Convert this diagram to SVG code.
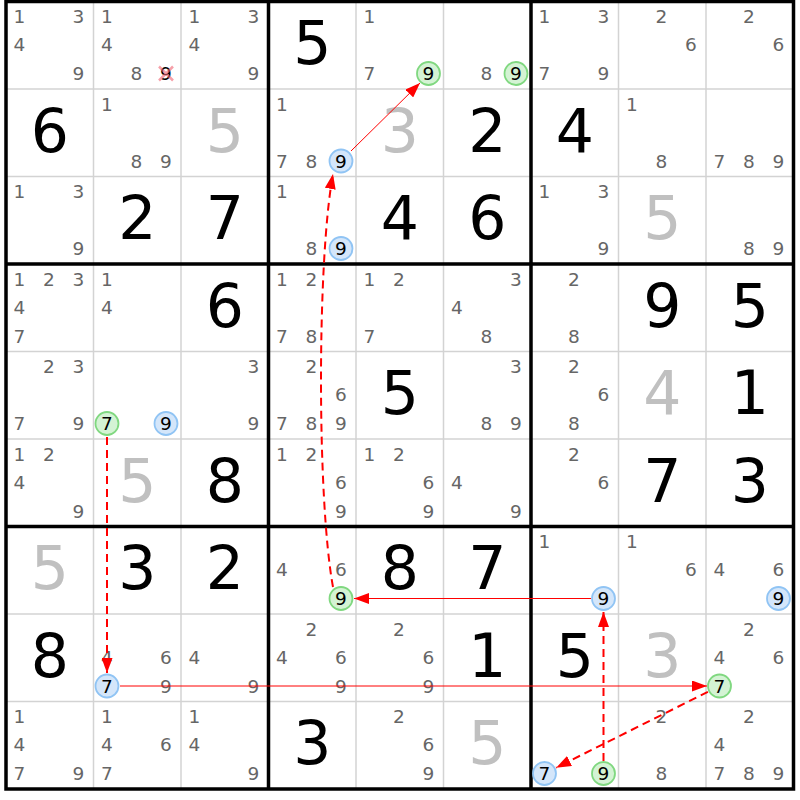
<svg xmlns="http://www.w3.org/2000/svg" width="800" height="800" viewBox="0 0 800 800">
<style>
text{font-family:"DejaVu Sans","Liberation Sans",sans-serif;text-anchor:middle}
.c{font-size:18.5px;fill:#666}
.h{font-size:18.5px;fill:#000}
.b{font-size:60px;fill:#000}
.g{font-size:60px;fill:#c0c0c0}
.thin{stroke:#d3d3d3;stroke-width:1.5}
.thick{stroke:#000;stroke-width:3.5}
.cg{fill:#d4f3d4;stroke:#80d880;stroke-width:1.8}
.cb{fill:#d4e6fa;stroke:#90c4f4;stroke-width:1.8}
.s{stroke:#ff0000;stroke-width:1;fill:none;marker-end:url(#ah)}
.d{stroke:#ff0000;stroke-width:2;stroke-dasharray:8,5;fill:none;marker-end:url(#ah)}
</style>
<defs>
<marker id="ah" markerUnits="userSpaceOnUse" markerWidth="15" markerHeight="11" refX="15" refY="5.5" orient="auto">
<path d="M0,0 L15,5.5 L0,11 z" fill="#ff0000"/>
</marker>
</defs>
<rect width="800" height="800" fill="#fff"/>
<g id="grid">
<path class="thin" d="M93.5,1.5V789M181,1.5V789M356,1.5V789M443.5,1.5V789M618.5,1.5V789M706,1.5V789M6,89H793.5M6,176.5H793.5M6,351.5H793.5M6,439H793.5M6,614H793.5M6,701.5H793.5"/>
<path class="thick" d="M268.5,1.5V789M531,1.5V789M6,264H793.5M6,526.5H793.5"/>
<rect class="thick" x="6" y="1.5" width="787.5" height="787.5" fill="none"/>
</g>
<g id="r0c0"><text class="c" x="19.5" y="23.3">1</text><text class="c" x="78.5" y="23.3">3</text><text class="c" x="19.5" y="51.3">4</text><text class="c" x="78.5" y="80.3">9</text></g>
<g id="r0c1"><text class="c" x="107" y="23.3">1</text><text class="c" x="107" y="51.3">4</text><text class="c" x="136.5" y="80.3">8</text><text class="h" x="166" y="80.3">9</text><path d="M159,66.5L173,80.5M173,66.5L159,80.5" stroke="#f06070" stroke-width="2.5" stroke-opacity="0.6"/></g>
<g id="r0c2"><text class="c" x="194.5" y="23.3">1</text><text class="c" x="253.5" y="23.3">3</text><text class="c" x="194.5" y="51.3">4</text><text class="c" x="253.5" y="80.3">9</text></g>
<g id="r0c3"><text class="b" x="312.25" y="64.25">5</text></g>
<g id="r0c4"><text class="c" x="369.5" y="23.3">1</text><text class="c" x="369.5" y="80.3">7</text><circle class="cg" cx="428.5" cy="73.5" r="11.5"/><text class="h" x="428.5" y="80.3">9</text></g>
<g id="r0c5"><text class="c" x="486.5" y="80.3">8</text><circle class="cg" cx="516" cy="73.5" r="11.5"/><text class="h" x="516" y="80.3">9</text></g>
<g id="r0c6"><text class="c" x="544.5" y="23.3">1</text><text class="c" x="603.5" y="23.3">3</text><text class="c" x="544.5" y="80.3">7</text><text class="c" x="603.5" y="80.3">9</text></g>
<g id="r0c7"><text class="c" x="661.5" y="23.3">2</text><text class="c" x="691" y="51.3">6</text></g>
<g id="r0c8"><text class="c" x="749" y="23.3">2</text><text class="c" x="778.5" y="51.3">6</text></g>
<g id="r1c0"><text class="b" x="49.75" y="151.75">6</text></g>
<g id="r1c1"><text class="c" x="107" y="110.8">1</text><text class="c" x="136.5" y="167.8">8</text><text class="c" x="166" y="167.8">9</text></g>
<g id="r1c2"><text class="g" x="224.75" y="151.75">5</text></g>
<g id="r1c3"><text class="c" x="282" y="110.8">1</text><text class="c" x="282" y="167.8">7</text><text class="c" x="311.5" y="167.8">8</text><circle class="cb" cx="341" cy="161" r="11.5"/><text class="h" x="341" y="167.8">9</text></g>
<g id="r1c4"><text class="g" x="399.75" y="151.75">3</text></g>
<g id="r1c5"><text class="b" x="487.25" y="151.75">2</text></g>
<g id="r1c6"><text class="b" x="574.75" y="151.75">4</text></g>
<g id="r1c7"><text class="c" x="632" y="110.8">1</text><text class="c" x="661.5" y="167.8">8</text></g>
<g id="r1c8"><text class="c" x="719.5" y="167.8">7</text><text class="c" x="749" y="167.8">8</text><text class="c" x="778.5" y="167.8">9</text></g>
<g id="r2c0"><text class="c" x="19.5" y="198.3">1</text><text class="c" x="78.5" y="198.3">3</text><text class="c" x="78.5" y="255.3">9</text></g>
<g id="r2c1"><text class="b" x="137.25" y="239.25">2</text></g>
<g id="r2c2"><text class="b" x="224.75" y="239.25">7</text></g>
<g id="r2c3"><text class="c" x="282" y="198.3">1</text><text class="c" x="311.5" y="255.3">8</text><circle class="cb" cx="341" cy="248.5" r="11.5"/><text class="h" x="341" y="255.3">9</text></g>
<g id="r2c4"><text class="b" x="399.75" y="239.25">4</text></g>
<g id="r2c5"><text class="b" x="487.25" y="239.25">6</text></g>
<g id="r2c6"><text class="c" x="544.5" y="198.3">1</text><text class="c" x="603.5" y="198.3">3</text><text class="c" x="603.5" y="255.3">9</text></g>
<g id="r2c7"><text class="g" x="662.25" y="239.25">5</text></g>
<g id="r2c8"><text class="c" x="749" y="255.3">8</text><text class="c" x="778.5" y="255.3">9</text></g>
<g id="r3c0"><text class="c" x="19.5" y="285.8">1</text><text class="c" x="49" y="285.8">2</text><text class="c" x="78.5" y="285.8">3</text><text class="c" x="19.5" y="313.8">4</text><text class="c" x="19.5" y="342.8">7</text></g>
<g id="r3c1"><text class="c" x="107" y="285.8">1</text><text class="c" x="107" y="313.8">4</text></g>
<g id="r3c2"><text class="b" x="224.75" y="326.75">6</text></g>
<g id="r3c3"><text class="c" x="282" y="285.8">1</text><text class="c" x="311.5" y="285.8">2</text><text class="c" x="282" y="342.8">7</text><text class="c" x="311.5" y="342.8">8</text></g>
<g id="r3c4"><text class="c" x="369.5" y="285.8">1</text><text class="c" x="399" y="285.8">2</text><text class="c" x="369.5" y="342.8">7</text></g>
<g id="r3c5"><text class="c" x="516" y="285.8">3</text><text class="c" x="457" y="313.8">4</text><text class="c" x="486.5" y="342.8">8</text></g>
<g id="r3c6"><text class="c" x="574" y="285.8">2</text><text class="c" x="574" y="342.8">8</text></g>
<g id="r3c7"><text class="b" x="662.25" y="326.75">9</text></g>
<g id="r3c8"><text class="b" x="749.75" y="326.75">5</text></g>
<g id="r4c0"><text class="c" x="49" y="373.3">2</text><text class="c" x="78.5" y="373.3">3</text><text class="c" x="19.5" y="430.3">7</text><text class="c" x="78.5" y="430.3">9</text></g>
<g id="r4c1"><circle class="cg" cx="107" cy="423.5" r="11.5"/><text class="h" x="107" y="430.3">7</text><circle class="cb" cx="166" cy="423.5" r="11.5"/><text class="h" x="166" y="430.3">9</text></g>
<g id="r4c2"><text class="c" x="253.5" y="373.3">3</text><text class="c" x="253.5" y="430.3">9</text></g>
<g id="r4c3"><text class="c" x="311.5" y="373.3">2</text><text class="c" x="341" y="401.3">6</text><text class="c" x="282" y="430.3">7</text><text class="c" x="311.5" y="430.3">8</text><text class="c" x="341" y="430.3">9</text></g>
<g id="r4c4"><text class="b" x="399.75" y="414.25">5</text></g>
<g id="r4c5"><text class="c" x="516" y="373.3">3</text><text class="c" x="486.5" y="430.3">8</text><text class="c" x="516" y="430.3">9</text></g>
<g id="r4c6"><text class="c" x="574" y="373.3">2</text><text class="c" x="603.5" y="401.3">6</text><text class="c" x="574" y="430.3">8</text></g>
<g id="r4c7"><text class="g" x="662.25" y="414.25">4</text></g>
<g id="r4c8"><text class="b" x="749.75" y="414.25">1</text></g>
<g id="r5c0"><text class="c" x="19.5" y="460.8">1</text><text class="c" x="49" y="460.8">2</text><text class="c" x="19.5" y="488.8">4</text><text class="c" x="78.5" y="517.8">9</text></g>
<g id="r5c1"><text class="g" x="137.25" y="501.75">5</text></g>
<g id="r5c2"><text class="b" x="224.75" y="501.75">8</text></g>
<g id="r5c3"><text class="c" x="282" y="460.8">1</text><text class="c" x="311.5" y="460.8">2</text><text class="c" x="341" y="488.8">6</text><text class="c" x="341" y="517.8">9</text></g>
<g id="r5c4"><text class="c" x="369.5" y="460.8">1</text><text class="c" x="399" y="460.8">2</text><text class="c" x="428.5" y="488.8">6</text><text class="c" x="428.5" y="517.8">9</text></g>
<g id="r5c5"><text class="c" x="457" y="488.8">4</text><text class="c" x="516" y="517.8">9</text></g>
<g id="r5c6"><text class="c" x="574" y="460.8">2</text><text class="c" x="603.5" y="488.8">6</text></g>
<g id="r5c7"><text class="b" x="662.25" y="501.75">7</text></g>
<g id="r5c8"><text class="b" x="749.75" y="501.75">3</text></g>
<g id="r6c0"><text class="g" x="49.75" y="589.25">5</text></g>
<g id="r6c1"><text class="b" x="137.25" y="589.25">3</text></g>
<g id="r6c2"><text class="b" x="224.75" y="589.25">2</text></g>
<g id="r6c3"><text class="c" x="282" y="576.3">4</text><text class="c" x="341" y="576.3">6</text><circle class="cg" cx="341" cy="598.5" r="11.5"/><text class="h" x="341" y="605.3">9</text></g>
<g id="r6c4"><text class="b" x="399.75" y="589.25">8</text></g>
<g id="r6c5"><text class="b" x="487.25" y="589.25">7</text></g>
<g id="r6c6"><text class="c" x="544.5" y="548.3">1</text><circle class="cb" cx="603.5" cy="598.5" r="11.5"/><text class="h" x="603.5" y="605.3">9</text></g>
<g id="r6c7"><text class="c" x="632" y="548.3">1</text><text class="c" x="691" y="576.3">6</text></g>
<g id="r6c8"><text class="c" x="719.5" y="576.3">4</text><text class="c" x="778.5" y="576.3">6</text><circle class="cb" cx="778.5" cy="598.5" r="11.5"/><text class="h" x="778.5" y="605.3">9</text></g>
<g id="r7c0"><text class="b" x="49.75" y="676.75">8</text></g>
<g id="r7c1"><text class="c" x="107" y="663.8">4</text><text class="c" x="166" y="663.8">6</text><circle class="cb" cx="107" cy="686" r="11.5"/><text class="h" x="107" y="692.8">7</text><text class="c" x="166" y="692.8">9</text></g>
<g id="r7c2"><text class="c" x="194.5" y="663.8">4</text><text class="c" x="253.5" y="692.8">9</text></g>
<g id="r7c3"><text class="c" x="311.5" y="635.8">2</text><text class="c" x="282" y="663.8">4</text><text class="c" x="341" y="663.8">6</text><text class="c" x="341" y="692.8">9</text></g>
<g id="r7c4"><text class="c" x="399" y="635.8">2</text><text class="c" x="428.5" y="663.8">6</text><text class="c" x="428.5" y="692.8">9</text></g>
<g id="r7c5"><text class="b" x="487.25" y="676.75">1</text></g>
<g id="r7c6"><text class="b" x="574.75" y="676.75">5</text></g>
<g id="r7c7"><text class="g" x="662.25" y="676.75">3</text></g>
<g id="r7c8"><text class="c" x="749" y="635.8">2</text><text class="c" x="719.5" y="663.8">4</text><text class="c" x="778.5" y="663.8">6</text><circle class="cg" cx="719.5" cy="686" r="11.5"/><text class="h" x="719.5" y="692.8">7</text></g>
<g id="r8c0"><text class="c" x="19.5" y="723.3">1</text><text class="c" x="19.5" y="751.3">4</text><text class="c" x="19.5" y="780.3">7</text><text class="c" x="78.5" y="780.3">9</text></g>
<g id="r8c1"><text class="c" x="107" y="723.3">1</text><text class="c" x="107" y="751.3">4</text><text class="c" x="166" y="751.3">6</text><text class="c" x="107" y="780.3">7</text></g>
<g id="r8c2"><text class="c" x="194.5" y="723.3">1</text><text class="c" x="194.5" y="751.3">4</text><text class="c" x="253.5" y="780.3">9</text></g>
<g id="r8c3"><text class="b" x="312.25" y="764.25">3</text></g>
<g id="r8c4"><text class="c" x="399" y="723.3">2</text><text class="c" x="428.5" y="751.3">6</text><text class="c" x="428.5" y="780.3">9</text></g>
<g id="r8c5"><text class="g" x="487.25" y="764.25">5</text></g>
<g id="r8c6"><circle class="cb" cx="544.5" cy="773.5" r="11.5"/><text class="h" x="544.5" y="780.3">7</text><circle class="cg" cx="603.5" cy="773.5" r="11.5"/><text class="h" x="603.5" y="780.3">9</text></g>
<g id="r8c7"><text class="c" x="661.5" y="723.3">2</text><text class="c" x="661.5" y="780.3">8</text></g>
<g id="r8c8"><text class="c" x="749" y="723.3">2</text><text class="c" x="719.5" y="751.3">4</text><text class="c" x="719.5" y="780.3">7</text><text class="c" x="749" y="780.3">8</text><text class="c" x="778.5" y="780.3">9</text></g>
<g id="connectors">
<path class="s" d="M351,151 L420,83"/>
<path class="d" d="M333,587 C317,500 317,260 333,174"/>
<path class="d" d="M107,437 L107,673"/>
<path class="s" d="M120,686 L707,686"/>
<path class="s" d="M591,598.5 L354,598.5"/>
<path class="d" d="M603.5,761 L603.5,612"/>
<path class="d" d="M707.9,691.8 L556.1,767.7"/>
</g>
</svg>
